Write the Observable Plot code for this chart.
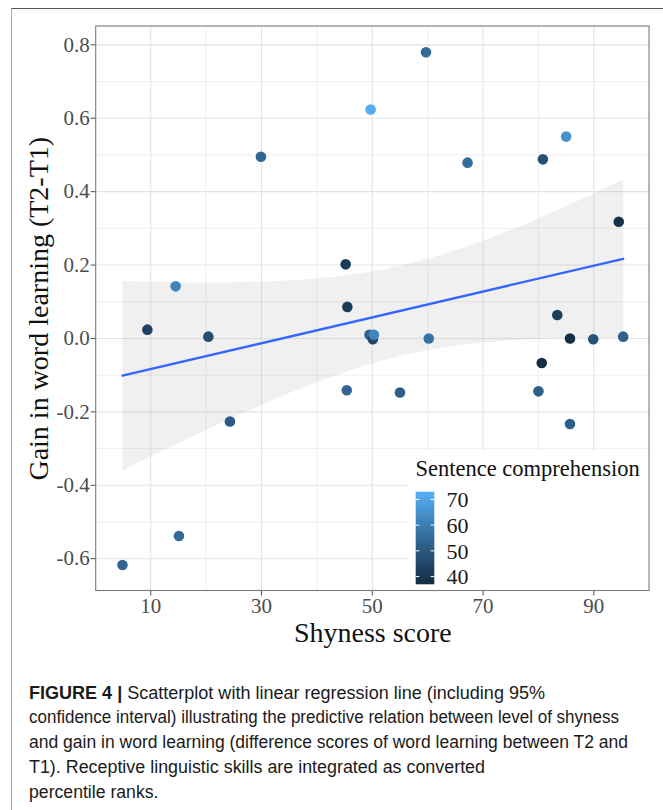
<!DOCTYPE html>
<html>
<head>
<meta charset="utf-8">
<script src="https://cdn.jsdelivr.net/npm/d3@7"></script>
<script src="https://cdn.jsdelivr.net/npm/@observablehq/plot@0.6"></script>
<style>
  html, body { margin: 0; padding: 0; background: #fff; overflow: hidden; }
  #wrap { position: relative; width: 663px; height: 810px; overflow: hidden; }
  #box { position: absolute; left: 11px; top: 8px; width: 720px; height: 860px;
         border-left: 1.5px solid #a8a8a8; border-top: 1.5px solid #555; pointer-events: none; }
  #chart { position: absolute; left: 0; top: 0; }
  #caption { position: absolute; left: 29px; top: 680.5px; font-family: "Liberation Sans", Arial, sans-serif;
             font-size: 17.5px; line-height: 24.8px; color: #1a1a1a; white-space: nowrap; }
  #caption div { transform-origin: 0 50%; width: max-content; }
</style>
</head>
<body>
<div id="wrap">
  <div id="chart"></div>
  <div id="caption"></div>
  <div id="box"></div>
</div>
<script>
// ---- data ----
const shyness = [59.7, 49.7, 29.9, 67.2, 80.8, 85.0, 94.5, 45.2, 14.5, 45.5, 83.4, 9.4, 20.4,
                 49.5, 50.1, 50.3, 60.2, 45.4, 55.0, 24.3, 15.1, 4.9, 85.7, 89.9, 95.3, 80.6, 80.0, 85.7];
const gain    = [0.780, 0.624, 0.495, 0.479, 0.488, 0.550, 0.318, 0.202, 0.142, 0.086, 0.064, 0.024, 0.005,
                 0.010, -0.002, 0.010, 0.000, -0.141, -0.147, -0.226, -0.538, -0.617, 0.000, -0.002, 0.005, -0.067, -0.144, -0.233];
const comprehension = [55, 72, 54, 56, 48, 65, 39, 42, 62, 42, 43, 44, 47,
                       53, 45, 62, 57, 54, 52, 51, 55, 54, 38, 49, 53, 38, 52, 52];
const xTicks = [10, 30, 50, 70, 90];
const xMinor = [20, 40, 60, 80];
const yTicks = [-0.6, -0.4, -0.2, 0.0, 0.2, 0.4, 0.6, 0.8];
const yMinor = [-0.5, -0.3, -0.1, 0.1, 0.3, 0.5, 0.7];
const legendTicks = [40, 50, 60, 70];
const colorDomain = [37, 73];
const colorRange = ["#132B43", "#56B1F7"];
const xTitle = "Shyness score";
const yTitle = "Gain in word learning (T2-T1)";
const legendTitle = "Sentence comprehension";
const captionBold = "FIGURE 4 |";
const captionLines = [
  "Scatterplot with linear regression line (including 95%",
  "confidence interval) illustrating the predictive relation between level of shyness",
  "and gain in word learning (difference scores of word learning between T2 and",
  "T1). Receptive linguistic skills are integrated as converted",
  "percentile ranks."
];
const captionWidths = [516, 590, 599, 456, 129.5];

const data = shyness.map((s, i) => ({shy: s, gain: gain[i], comp: comprehension[i]}));

const serif = "'Liberation Serif', 'Times New Roman', serif";
const W = 663, H = 660;
const mL = 95.7, mR = 14, mT = 26, mB = 69.5;

const chart = Plot.plot({
  width: W, height: H,
  marginLeft: mL, marginRight: mR, marginTop: mT, marginBottom: mB,
  style: {background: "transparent", fontFamily: serif},
  x: {domain: [0.16, 100.05]},
  y: {domain: [-0.688, 0.85]},
  color: {type: "linear", domain: colorDomain, range: colorRange, interpolate: "lab"},
  marks: [
    Plot.gridX(xMinor, {stroke: "#ebebeb", strokeOpacity: 1, strokeWidth: 0.8}),
    Plot.gridY(yMinor, {stroke: "#ebebeb", strokeOpacity: 1, strokeWidth: 0.8}),
    Plot.gridX(xTicks, {stroke: "#e4e4e4", strokeOpacity: 1, strokeWidth: 1.1}),
    Plot.gridY(yTicks, {stroke: "#e4e4e4", strokeOpacity: 1, strokeWidth: 1.1}),
    Plot.linearRegressionY(data, {x: "shy", y: "gain", ci: 0.95, stroke: "#3366FF", strokeWidth: 2.3,
                                  fill: "#999999", fillOpacity: 0.15}),
    Plot.dot(data, {x: "shy", y: "gain", fill: "comp", r: 5.3, stroke: null}),
    Plot.axisX({ticks: xTicks, tickSize: 5, tickPadding: 2, color: "#4d4d4d", fontSize: 21,
                fontFamily: serif, label: null, tickFormat: d => String(d)}),
    Plot.axisY({ticks: yTicks, tickSize: 5, tickPadding: 1.5, color: "#4d4d4d", fontSize: 21,
                fontFamily: serif, label: null, tickFormat: d => d.toFixed(1)}),
    Plot.text([xTitle], {frameAnchor: "bottom", dy: 42, fontSize: 28, fontFamily: serif, fill: "#111",
                         textAnchor: "middle", lineAnchor: "middle"}),
    Plot.text([yTitle], {frameAnchor: "left", dx: -57.5, rotate: -90, fontSize: 28, fontFamily: serif,
                         fill: "#111", textAnchor: "middle", lineAnchor: "middle"})
  ]
});
document.getElementById("chart").appendChild(chart);

// ---- colour bar legend inside the panel ----
const svg = d3.select(chart);
const cs = Plot.scale({color: {type: "linear", domain: colorDomain, range: colorRange, interpolate: "lab"}});
const ly = d3.scaleLinear().domain(colorDomain).range([584.3, 491.7]);
const lg = svg.append("g").attr("text-anchor", "start");
lg.append("rect").attr("x", 409).attr("y", 451).attr("width", W - mR - 409 - 0.5).attr("height", H - mB - 451 - 0.5)
  .attr("fill", "#fff");
const defs = svg.append("defs");
const grad = defs.append("linearGradient").attr("id", "cbar").attr("x1", 0).attr("y1", 1).attr("x2", 0).attr("y2", 0);
d3.range(0, 11).forEach(i => {
  const v = colorDomain[0] + (colorDomain[1] - colorDomain[0]) * i / 10;
  grad.append("stop").attr("offset", i / 10).attr("stop-color", cs.apply(v));
});
lg.append("rect").attr("x", 415.7).attr("y", ly(colorDomain[1])).attr("width", 18.6)
  .attr("height", ly(colorDomain[0]) - ly(colorDomain[1])).attr("fill", "url(#cbar)");
legendTicks.forEach(t => {
  lg.append("line").attr("x1", 415.7).attr("x2", 419.4).attr("y1", ly(t)).attr("y2", ly(t)).attr("stroke", "#fff").attr("stroke-width", 1);
  lg.append("line").attr("x1", 430.6).attr("x2", 434.3).attr("y1", ly(t)).attr("y2", ly(t)).attr("stroke", "#fff").attr("stroke-width", 1);
  lg.append("text").attr("x", 446.5).attr("y", ly(t)).attr("dy", "0.35em").attr("font-size", 22)
    .attr("font-family", serif).attr("fill", "#1a1a1a").attr("text-anchor", "start").text(t);
});
lg.append("text").attr("x", 415.5).attr("y", 475.5).attr("font-size", 22.5).attr("font-family", serif)
  .attr("fill", "#111").attr("text-anchor", "start").text(legendTitle);
// redraw panel border on top of legend box
svg.append("rect").attr("x", mL).attr("y", mT).attr("width", W - mL - mR).attr("height", H - mT - mB)
  .attr("fill", "none").attr("stroke", "#7a7a7a").attr("stroke-width", 1.1);

// ---- caption ----
const cap = document.getElementById("caption");
captionLines.forEach((line, i) => {
  const div = document.createElement("div");
  if (i === 0) {
    const b = document.createElement("b");
    b.textContent = captionBold + " ";
    div.appendChild(b);
  }
  div.appendChild(document.createTextNode(line));
  cap.appendChild(div);
});
// condense each caption line to the reference's line width
Array.from(cap.children).forEach((d, i) => {
  const w = d.getBoundingClientRect().width;
  d.style.transform = `scaleX(${captionWidths[i] / w})`;
});
</script>
</body>
</html>
